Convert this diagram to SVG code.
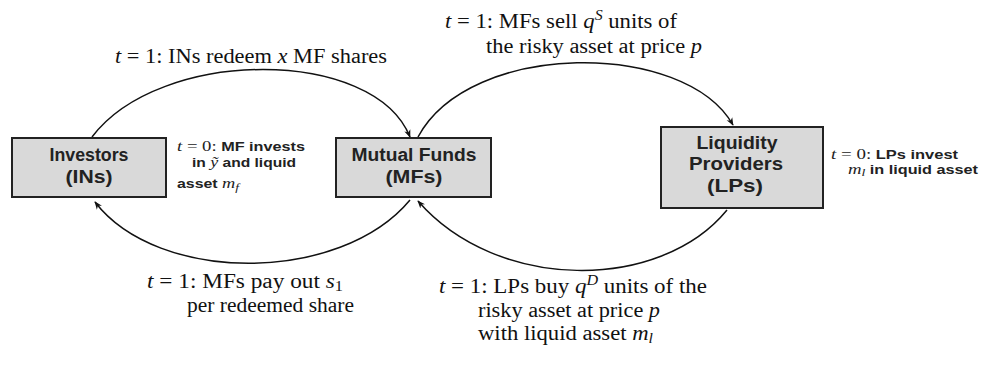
<svg xmlns="http://www.w3.org/2000/svg" width="984" height="370" viewBox="0 0 984 370">
<style>
.box{fill:#d9d9d9;stroke:#222;stroke-width:2}
.nl{font-family:"Liberation Sans",Arial,sans-serif;font-weight:bold;font-size:18px;fill:#222;text-anchor:middle}
.lab{font-family:"Liberation Serif","Times New Roman",serif;font-size:20px;fill:#111}
.note{font-family:"Liberation Sans",Arial,sans-serif;font-weight:bold;font-size:13px;fill:#222}
.m{font-family:"Liberation Serif","Times New Roman",serif;font-style:italic;font-weight:normal}
.r{font-family:"Liberation Serif","Times New Roman",serif;font-weight:normal}
.edge{fill:none;stroke:#111;stroke-width:1.5;marker-end:url(#ah)}
</style>
<defs>
<marker id="ah" viewBox="0 0 10 10" refX="9" refY="5" markerWidth="8" markerHeight="8" markerUnits="userSpaceOnUse" orient="auto">
<path d="M0,1 L10,5 L0,9 L3,5 Z" fill="#111"/>
</marker>
</defs>
<rect width="984" height="370" fill="#fff"/>
<g id="connectors">
<path class="edge" d="M92,137 C160,47 374,47 410,137"/>
<path class="edge" d="M418,137 C470,40 685,40 733,125"/>
<path class="edge" d="M410,200 C340,284 158,284 95,202"/>
<path class="edge" d="M727,210 C660,292 497,292 418,201"/>
</g>
<g id="investors">
<rect class="box" x="12" y="138" width="154" height="59"/>
<text class="nl" x="89" y="161" textLength="79" lengthAdjust="spacingAndGlyphs">Investors</text>
<text class="nl" x="89" y="183" textLength="47" lengthAdjust="spacingAndGlyphs">(INs)</text>
</g>
<g id="mutual-funds">
<rect class="box" x="336" y="138" width="155" height="59"/>
<text class="nl" x="414" y="161" textLength="125" lengthAdjust="spacingAndGlyphs">Mutual Funds</text>
<text class="nl" x="414" y="183" textLength="57" lengthAdjust="spacingAndGlyphs">(MFs)</text>
</g>
<g id="liquidity-providers">
<rect class="box" x="661" y="127" width="162" height="81"/>
<text class="nl" x="737" y="149" textLength="81" lengthAdjust="spacingAndGlyphs">Liquidity</text>
<text class="nl" x="736" y="170" textLength="94" lengthAdjust="spacingAndGlyphs">Providers</text>
<text class="nl" x="735" y="192" textLength="56" lengthAdjust="spacingAndGlyphs">(LPs)</text>
</g>
<g id="labels">
<text class="note" x="177" y="151" textLength="128" lengthAdjust="spacingAndGlyphs"><tspan class="m" font-size="15">t</tspan><tspan class="r" font-size="15"> = 0:</tspan> MF invests</text>
<text class="note" x="192" y="167" textLength="104" lengthAdjust="spacingAndGlyphs">in <tspan class="m" font-size="15">ỹ</tspan> and liquid</text>
<text class="note" x="177" y="188" textLength="62" lengthAdjust="spacingAndGlyphs">asset <tspan class="m" font-size="15">m</tspan><tspan class="m" font-size="11" dy="3">f</tspan></text>
<text class="note" x="831" y="159" textLength="127" lengthAdjust="spacingAndGlyphs"><tspan class="m" font-size="15">t</tspan><tspan class="r" font-size="15"> = 0:</tspan> LPs invest</text>
<text class="note" x="848" y="174" textLength="130" lengthAdjust="spacingAndGlyphs"><tspan class="m" font-size="15">m</tspan><tspan class="m" font-size="11" dy="2">l</tspan><tspan dy="-2"> in liquid asset</tspan></text>
<text class="lab" x="115" y="63" textLength="272" lengthAdjust="spacingAndGlyphs"><tspan class="m">t</tspan> = 1: INs redeem <tspan class="m">x</tspan> MF shares</text>
<text class="lab" x="445" y="28" textLength="232" lengthAdjust="spacingAndGlyphs"><tspan class="m">t</tspan> = 1: MFs sell <tspan class="m">q</tspan><tspan class="m" font-size="14" dy="-8">S</tspan><tspan dy="8"> units of</tspan></text>
<text class="lab" x="486" y="53" textLength="216" lengthAdjust="spacingAndGlyphs">the risky asset at price <tspan class="m">p</tspan></text>
<text class="lab" x="147" y="288" textLength="196" lengthAdjust="spacingAndGlyphs"><tspan class="m">t</tspan> = 1: MFs pay out <tspan class="m">s</tspan><tspan font-size="14" dy="3">1</tspan></text>
<text class="lab" x="187" y="312" textLength="167" lengthAdjust="spacingAndGlyphs">per redeemed share</text>
<text class="lab" x="439" y="293" textLength="268" lengthAdjust="spacingAndGlyphs"><tspan class="m">t</tspan> = 1: LPs buy <tspan class="m">q</tspan><tspan class="m" font-size="14" dy="-8">D</tspan><tspan dy="8"> units of the</tspan></text>
<text class="lab" x="478" y="317" textLength="182" lengthAdjust="spacingAndGlyphs">risky asset at price <tspan class="m">p</tspan></text>
<text class="lab" x="478" y="340" textLength="175" lengthAdjust="spacingAndGlyphs">with liquid asset <tspan class="m">m</tspan><tspan class="m" font-size="14" dy="3">l</tspan></text>
</g>
</svg>
